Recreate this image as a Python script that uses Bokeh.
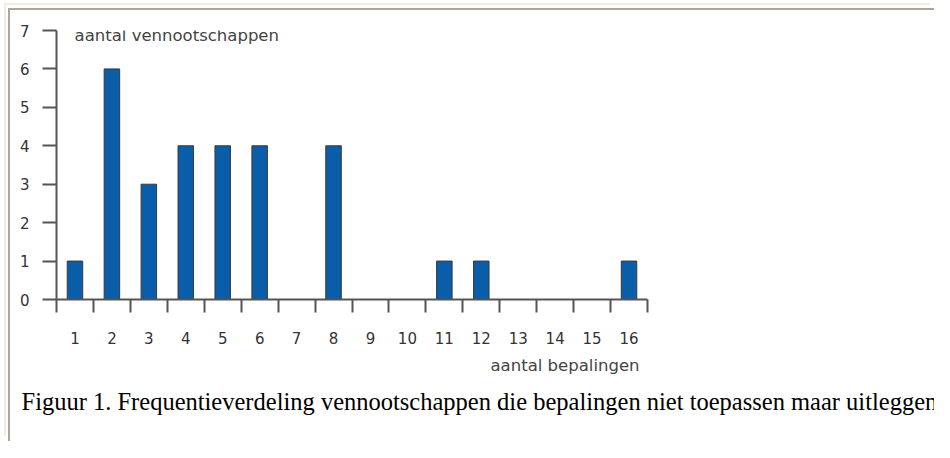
from bokeh.plotting import figure
from bokeh.models import Range1d, FixedTicker, Label, Title, ColumnDataSource
from bokeh.embed import file_html
from bokeh.resources import INLINE

# ---- data ----
categories = ["1", "2", "3", "4", "5", "6", "7", "8", "9", "10", "11", "12", "13", "14", "15", "16"]
counts = [1, 6, 3, 4, 4, 4, 0, 4, 0, 0, 1, 1, 0, 0, 0, 1]
y_ticks = [0, 1, 2, 3, 4, 5, 6, 7]
y_title = "aantal vennootschappen"
x_title = "aantal bepalingen"
caption = "Figuur 1. Frequentieverdeling vennootschappen die bepalingen niet toepassen maar uitleggen"

positions = list(range(1, len(categories) + 1))
boundaries = [i + 0.5 for i in range(len(categories) + 1)]

W, H = 926, 433
FL, FR, FT, FB = 46, 637, 20, 289  # frame edges in canvas px

p = figure(
    width=W, height=H,
    x_range=Range1d(0.5, len(categories) + 0.5),
    y_range=Range1d(min(y_ticks), max(y_ticks)),
    output_backend="svg", toolbar_location=None, title=None,
    min_border_left=FL, min_border_right=W - FR,
    min_border_top=FT, min_border_bottom=H - FB,
)
p.styles = {
    "transform": "translate(8px, 8px)",
    "border-left": "2px solid #ACA899",
    "border-top": "2px solid #ACA899",
    "box-shadow": "-2px -3px 0 0 #ffffff, -4px -5px 0 0 #F1EDE1",
}
p.outline_line_color = None
p.xgrid.visible = False
p.ygrid.visible = False
p.background_fill_color = "white"
p.border_fill_color = "white"

src = ColumnDataSource(dict(x=positions, top=counts, cat=categories))
p.vbar(x="x", top="top", bottom=0, width=0.42, source=src,
       fill_color="#0A5DA8", line_color="#3a3a3a", line_width=1)

axis_col = "#555555"
lab_col = "#333333"

xa = p.xaxis[0]
xa.ticker = FixedTicker(ticks=positions, minor_ticks=boundaries)
xa.major_label_overrides = {pos: cat for pos, cat in zip(positions, categories)}
xa.major_tick_out = 0
xa.major_tick_in = 0
xa.minor_tick_out = 13
xa.minor_tick_in = 0
xa.minor_tick_line_color = axis_col
xa.minor_tick_line_width = 2
xa.axis_line_color = axis_col
xa.axis_line_width = 2
xa.major_label_standoff = 19
xa.major_label_text_font = "DejaVu Sans"
xa.major_label_text_font_size = "15px"
xa.major_label_text_color = lab_col

ya = p.yaxis[0]
ya.ticker = FixedTicker(ticks=y_ticks, minor_ticks=[])
ya.major_tick_out = 14
ya.major_tick_in = 0
ya.major_tick_line_color = axis_col
ya.major_tick_line_width = 2
ya.axis_line_color = axis_col
ya.axis_line_width = 2
ya.major_label_standoff = 13
ya.major_label_text_font = "DejaVu Sans"
ya.major_label_text_font_size = "15px"
ya.major_label_text_color = lab_col

p.add_layout(Label(x=0.99, y=6.87, text=y_title, text_align="left", text_baseline="middle",
                   text_font="DejaVu Sans", text_font_style="normal",
                   text_font_size="16.5px", text_color="#444444"))

t_x = Title(text=x_title, align="right", offset=8, standoff=15,
            text_font="DejaVu Sans", text_font_style="normal",
            text_font_size="16.5px", text_color="#444444")
p.add_layout(t_x, "below")
t_cap = Title(text=caption, align="left", offset=-35, standoff=6,
              text_font="Liberation Serif", text_font_style="normal",
              text_font_size="24.5px", text_color="black")
p.add_layout(t_cap, "below")

open("out.html", "w").write(file_html(p, INLINE))
